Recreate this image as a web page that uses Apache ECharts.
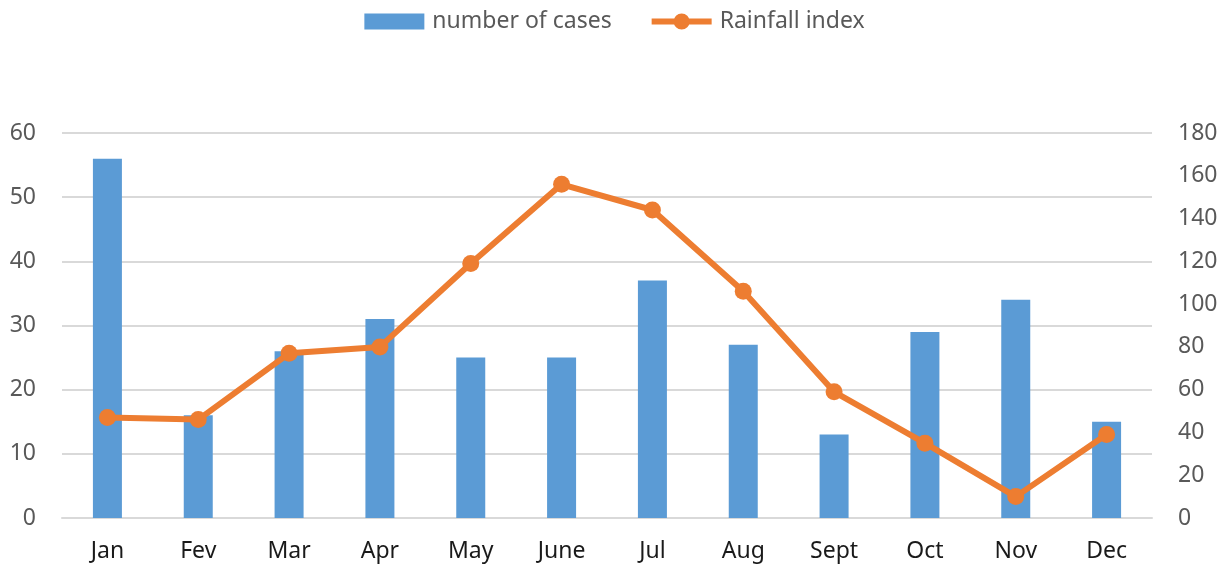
<!DOCTYPE html>
<html>
<head>
<meta charset="utf-8">
<script src="https://cdn.jsdelivr.net/npm/echarts@6/dist/echarts.min.js"></script>
<style>
  html, body { margin: 0; padding: 0; background: #fff; }
  #chart { width: 1229px; height: 567px; }
</style>
</head>
<body>
<div id="chart"></div>
<script>
const months = ['Jan', 'Fev', 'Mar', 'Apr', 'May', 'June', 'Jul', 'Aug', 'Sept', 'Oct', 'Nov', 'Dec']
const cases = [56, 16, 26, 31, 25, 25, 37, 27, 13, 29, 34, 15]
const rainfall = [47, 46, 77, 80, 119, 156, 144, 106, 59, 35, 10, 39]

const chart = echarts.init(document.getElementById('chart'))
const font = '"Noto Sans", "Open Sans", sans-serif'
// line + marker legend icon (thick line with a dot in the middle)
const lineIcon = 'path://M0,5 L60,5 L60,11 L0,11 Z M22,8 A8,8 0 1,1 38,8 A8,8 0 1,1 22,8 Z'

chart.setOption({
  animation: false,
  textStyle: { fontFamily: font },
  legend: {
    top: 5,
    left: 'center',
    itemGap: 40,
    itemWidth: 60,
    itemHeight: 16,
    textStyle: { fontSize: 23, color: '#595959', fontFamily: font, padding: [0, 0, 0, 3] },
    data: [
      { name: 'number of cases', icon: 'rect', itemStyle: { color: '#5b9bd5' } },
      { name: 'Rainfall index', icon: lineIcon, itemStyle: { color: '#ed7d31' } },
    ],
  },
  grid: { left: 62, right: 77, top: 133, bottom: 49 },
  xAxis: {
    type: 'category',
    data: months,
    axisLine: { lineStyle: { color: '#d9d9d9', width: 2 } },
    axisTick: { show: false },
    axisLabel: { fontSize: 23, color: '#1a1a1a', margin: 22 },
  },
  yAxis: [
    {
      type: 'value',
      min: 0,
      max: 60,
      interval: 10,
      axisLine: { show: false },
      axisTick: { show: false },
      axisLabel: { fontSize: 23, color: '#595959', margin: 26 },
      splitLine: { lineStyle: { color: '#d9d9d9', width: 2 } },
    },
    {
      type: 'value',
      min: 0,
      max: 180,
      interval: 20,
      axisLine: { show: false },
      axisTick: { show: false },
      axisLabel: { fontSize: 23, color: '#595959', margin: 26 },
      splitLine: { show: false },
    },
  ],
  series: [
    {
      name: 'number of cases',
      type: 'bar',
      data: cases,
      barWidth: 29,
      itemStyle: { color: '#5b9bd5' },
    },
    {
      name: 'Rainfall index',
      type: 'line',
      yAxisIndex: 1,
      data: rainfall,
      symbol: 'circle',
      symbolSize: 17,
      lineStyle: { color: '#ed7d31', width: 6 },
      itemStyle: { color: '#ed7d31' },
    },
  ],
})
</script>
</body>
</html>
